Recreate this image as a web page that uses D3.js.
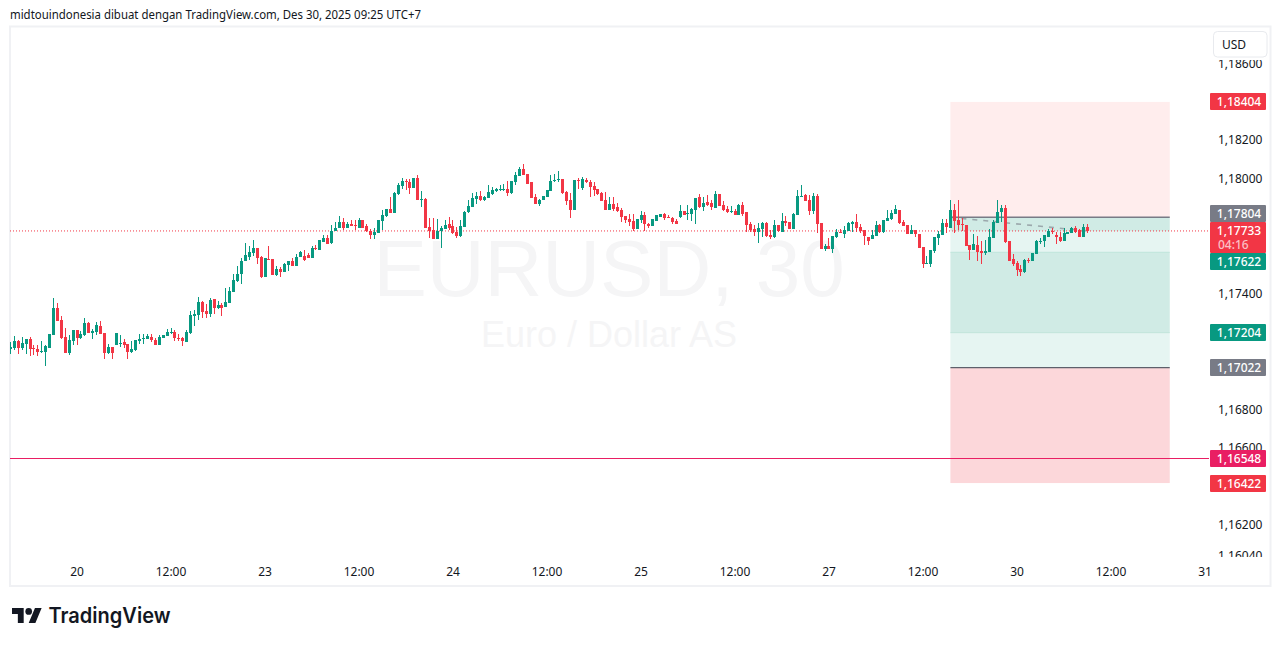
<!DOCTYPE html>
<html>
<head>
<meta charset="utf-8">
<script src="https://cdn.jsdelivr.net/npm/d3@7/dist/d3.min.js"></script>
<style>
html,body{margin:0;padding:0;background:#fff;overflow:hidden}
svg{display:block}
text{font-family:"Noto Sans",sans-serif}
</style>
</head>
<body>
<svg id="c" width="1281" height="646"></svg>
<script>
// Candle values, in points above 1.17000 (1 point = 0.00001). First bar index = firstBar.
const firstBar = -17;
const pointBase = 1.17;
const opens = [119,123,159,125,144,170,123,118,102,104,125,190,331,269,180,97,159,217,175,190,253,201,206,237,201,97,128,138,144,154,144,102,112,159,170,170,180,164,138,175,185,201,206,175,175,154,201,289,295,362,315,300,378,331,347,336,357,414,472,508,576,597,617,643,597,492,586,586,503,534,518,555,576,550,597,602,607,591,
644,634,675,696,670,732,748,779,748,769,764,748,790,758,732,712,722,784,810,847,826,925,967,993,987,956,1008,894,899,753,738,691,732,743,769,758,727,706,753,831,857,899,915,894,904,925,941,946,946,951,930,987,1019,1055,1029,987,909,873,894,909,941,993,998,1003,935,894,842,998,956,998,987,967,951,930,894,842,873,857,842,810,795,
784,742,789,815,768,758,784,804,820,804,799,784,804,836,820,820,841,908,856,882,877,851,924,867,846,830,836,815,867,830,768,742,726,742,773,711,700,763,726,784,778,742,815,908,919,893,836,914,773,638,653,638,700,726,716,731,768,778,752,737,700,690,705,763,726,784,794,820,841,778,763,716,737,716,648,560,560,627,695,
711,773,747,841,789,768,763,659,633,659,627,617,622,695,773,830,851,680,586,565,534,518,581,575,612,674,680,700,732,711,700,680,716,721,747,737,700,752];
const highs = [154,185,168,180,170,180,140,138,159,138,196,383,357,289,227,190,217,217,211,279,258,222,258,263,201,144,128,201,190,170,144,159,164,196,196,196,196,175,190,190,222,227,217,196,180,217,315,321,388,367,352,383,378,367,357,435,440,508,550,591,669,654,685,643,602,591,654,586,550,544,565,576,591,612,628,633,617,654,
659,686,712,712,764,779,810,800,779,790,790,800,790,769,743,748,790,842,847,909,935,982,1008,1003,1003,1008,1024,941,904,800,800,795,758,790,805,790,753,790,836,894,930,935,941,915,972,961,956,972,977,993,993,1039,1066,1081,1029,987,925,899,915,946,1024,1029,1045,1003,941,930,998,1008,1013,1008,998,987,951,935,935,909,909,878,852,810,821,
820,794,836,830,773,794,815,820,825,815,804,794,867,836,867,851,903,924,908,919,893,940,924,888,862,862,846,872,882,830,778,763,773,778,778,737,789,763,825,810,778,825,945,971,924,919,929,924,773,664,695,705,742,742,758,778,784,820,768,737,700,737,784,768,789,841,841,867,841,789,763,763,737,716,648,601,633,700,731,
794,794,893,872,893,799,763,659,716,706,680,685,742,789,893,867,867,680,612,575,555,586,591,617,685,695,711,742,747,726,726,747,726,752,758,742,768,768];
const lows = [92,116,92,114,92,81,86,81,97,29,125,190,263,170,97,86,138,138,171,185,201,170,190,196,66,92,66,138,128,123,66,97,107,144,144,170,154,138,138,175,185,196,159,159,133,154,196,237,269,279,279,284,300,326,289,336,357,414,466,456,576,581,602,560,487,492,581,503,498,492,518,524,550,550,597,576,591,591,
634,634,675,665,665,732,748,738,748,758,738,748,748,727,691,691,722,738,805,826,826,920,951,946,925,956,894,857,748,696,691,691,644,743,738,717,696,701,753,826,857,873,889,889,904,920,935,941,941,915,925,972,1019,1024,977,904,873,863,894,909,941,987,987,925,868,800,842,951,946,982,909,915,920,889,842,842,836,831,779,774,758,
731,742,773,731,747,758,784,804,789,799,768,768,799,815,789,784,768,851,836,862,841,851,862,836,825,825,815,815,810,726,726,705,669,700,700,690,695,726,726,758,742,742,815,908,888,815,820,721,638,627,638,617,695,721,695,731,726,726,721,659,659,690,705,721,721,784,789,820,768,758,716,716,700,643,539,560,544,617,659,
711,721,747,721,737,732,654,581,633,575,560,607,622,695,773,778,669,575,549,497,497,513,565,575,612,664,648,700,716,664,674,680,716,721,721,700,700,721];
const closes = [128,159,123,149,170,119,119,104,107,133,196,331,263,175,97,164,217,175,196,253,201,211,243,196,97,128,97,201,149,138,102,118,164,170,175,185,164,138,180,190,206,206,175,170,159,206,295,300,362,310,300,373,331,347,331,362,420,477,508,576,607,623,643,591,492,591,581,503,534,518,560,576,550,597,623,581,591,643,
639,686,696,665,732,748,779,748,769,758,758,790,748,732,712,727,790,816,847,826,930,972,993,987,956,1008,894,899,748,732,691,732,748,764,748,722,706,758,831,863,904,915,894,909,935,946,951,951,951,930,993,1024,1055,1024,977,904,873,894,915,946,993,998,1003,930,889,842,998,993,1003,987,961,946,925,889,842,873,847,836,805,790,779,
742,794,815,768,758,794,815,820,799,799,778,768,836,815,825,846,903,856,877,867,856,924,862,841,830,836,815,867,820,763,737,726,747,773,705,700,763,731,784,773,742,820,914,914,888,836,914,768,638,653,638,705,726,721,737,773,778,747,731,705,679,711,763,726,789,799,825,846,773,758,716,737,716,643,560,565,633,700,716,
773,752,841,784,763,763,654,633,664,622,617,627,700,778,830,851,674,575,560,529,518,581,575,617,680,680,711,732,726,700,680,721,726,747,726,700,752,733];

// Price axis and labels (ticks fully hidden behind the coloured boxes are not listed)
const priceTicks = [1.186,1.182,1.18,1.174,1.168,1.166,1.162,1.1604];
const labelPrices = [1.18404,1.17804,1.17733,1.17622,1.17204,1.17022,1.16548,1.16422];
const labelColors = ["#f23645","#787b86","#f23645","#089981","#089981","#787b86","#e91e63","#f23645"];
const currentPrice = 1.17733, countdown = "04:16";

// Time axis: bar index of each label
const timeBars = [0,24,48,72,96,120,144,168,192,216,240,264,288];
const timeLabels = ["20","12:00","23","12:00","24","12:00","25","12:00","27","12:00","30","12:00","31"];

// Long/short position tool
const posStartBar = 223, posEndBar = 279, posLastBar = 258;
const posStopTop = 1.18404, posEntry = 1.17804, posInner1 = 1.17622, posInner2 = 1.17204, posTarget = 1.17022, posStopBottom = 1.16422;
const hLinePrice = 1.16548;

const headerText = "midtouindonesia dibuat dengan TradingView.com, Des 30, 2025 09:25 UTC+7";
const wmTitle = "EURUSD, 30", wmSub = "Euro / Dollar AS", brand = "TradingView", currency = "USD";

const UP = "#089981", DOWN = "#f23645";
const svg = d3.select("#c");
const x = d3.scaleLinear().domain([0,288]).range([77,1205]);
const y = d3.scaleLinear().domain([1.18,1.16]).range([179.6,564.2]);
const yLabel = p => Math.round(y(p));
const toPrice = v => pointBase + v/1e5;
const candles = opens.map((o,k)=>({i:firstBar+k,o:toPrice(o),h:toPrice(highs[k]),l:toPrice(lows[k]),c:toPrice(closes[k])}));

const defs = svg.append("defs");
defs.append("clipPath").attr("id","pane").append("rect").attr("x",10).attr("y",27).attr("width",1199).attr("height",532);
defs.append("clipPath").attr("id","axisclip").append("rect").attr("x",1210).attr("y",60).attr("width",60).attr("height",497);

// header
svg.append("text").attr("x",10).attr("y",19).attr("font-size",12).attr("fill","#131722")
  .attr("textLength",411).attr("lengthAdjust","spacingAndGlyphs").text(headerText);

// frame
svg.append("rect").attr("x",10).attr("y",26.5).attr("width",1260.5).attr("height",559.5)
  .attr("fill","#fff").attr("stroke","#f0f1f4").attr("stroke-width",2);

const pane = svg.append("g").attr("clip-path","url(#pane)");

// watermark
pane.append("text").attr("x",609).attr("y",296).attr("text-anchor","middle").attr("font-size",80)
  .attr("fill","#f5f5f6").style("font-family","'Liberation Sans',sans-serif").text(wmTitle);
pane.append("text").attr("x",609).attr("y",346.5).attr("text-anchor","middle").attr("font-size",36)
  .attr("fill","#f5f5f6").style("font-family","'Liberation Sans',sans-serif").text(wmSub);

// position tool
const px0 = x(posStartBar), px1 = x(posEndBar);
const zone = (a,b,fill)=>pane.append("rect").attr("x",px0).attr("width",px1-px0).attr("y",y(a)).attr("height",y(b)-y(a)).attr("fill",fill);
zone(posStopTop,posEntry,"#ffeded");
zone(posEntry,currentPrice,"#d0ebe5");
zone(currentPrice,posInner1,"#e6f5f2");
zone(posInner1,posInner2,"#d0ebe5");
zone(posInner2,posTarget,"#e6f5f2");
zone(posTarget,posStopBottom,"#fcd7da");
const hl = (p,col,w)=>pane.append("line").attr("x1",px0).attr("x2",px1).attr("y1",y(p)).attr("y2",y(p)).attr("stroke",col).attr("stroke-width",w);
hl(posInner1,"#bfe4da",1); hl(posInner2,"#bfe4da",1);
hl(posEntry,"#787b86",1.6); hl(posTarget,"#5d606b",1.4);

// dashed position path
pane.append("line").attr("x1",x(posStartBar)).attr("y1",y(posEntry)).attr("x2",x(posLastBar)).attr("y2",y(currentPrice))
  .attr("stroke","#787b86").attr("stroke-opacity",.6).attr("stroke-width",1.6).attr("stroke-dasharray","5 6");

// price lines
pane.append("line").attr("x1",10).attr("x2",1209).attr("y1",y(currentPrice)).attr("y2",y(currentPrice))
  .attr("stroke",DOWN).attr("stroke-width",1).attr("stroke-dasharray","1 2");
pane.append("line").attr("x1",10).attr("x2",1209).attr("y1",Math.floor(y(hLinePrice))+.5).attr("y2",Math.floor(y(hLinePrice))+.5)
  .attr("stroke","#e91e63").attr("stroke-width",1);

// candles
const cg = pane.append("g").attr("shape-rendering","crispEdges");
const bar = cg.selectAll("g").data(candles).join("g").attr("fill",d=>d.c>d.o?UP:DOWN);
bar.append("rect").attr("x",d=>Math.floor(x(d.i))).attr("width",1)
  .attr("y",d=>yLabel(d.h)).attr("height",d=>Math.max(1,yLabel(d.l)-yLabel(d.h)));
bar.append("rect").attr("x",d=>Math.floor(x(d.i))-1).attr("width",3)
  .attr("y",d=>yLabel(Math.max(d.o,d.c))).attr("height",d=>Math.max(1,yLabel(Math.min(d.o,d.c))-yLabel(Math.max(d.o,d.c))));

// price axis
const ya = svg.append("g").attr("clip-path","url(#axisclip)").append("g").attr("transform","translate(1212,-1)")
  .call(d3.axisRight(y).tickValues(priceTicks).tickSize(0).tickPadding(6).tickFormat(p=>d3.format(".5f")(p).replace(".",",")));
ya.select(".domain").remove();
ya.selectAll("text").attr("font-size",12).attr("fill","#131722").style("font-family","'Noto Sans',sans-serif");

// time axis
const xa = svg.append("g").attr("transform","translate(0,567)")
  .call(d3.axisBottom(x).tickValues(timeBars).tickSize(0).tickPadding(0).tickFormat((d,k)=>timeLabels[k]));
xa.select(".domain").remove();
xa.selectAll("text").attr("font-size",12).attr("fill","#131722").attr("dy","0.71em").attr("y",0)
  .attr("dx",-.5).style("font-family","'Noto Sans',sans-serif");

// USD button
svg.append("rect").attr("x",1213.5).attr("y",31.5).attr("width",53.5).attr("height",25.5).attr("rx",4)
  .attr("fill","#fff").attr("stroke","#e8eaee");
svg.append("text").attr("x",1222).attr("y",48.5).attr("font-size",12).attr("fill","#131722").text(currency);

// price labels, pushed clear of the taller current-price box
const H = 17, curH = 31;
const curTop = Math.round(y(currentPrice)-9);
const labels = labelPrices.map((p,k)=>{
  let top = Math.round(y(p)-8.5), h = H;
  if (p===currentPrice){top=curTop;h=curH;}
  else if (top<curTop+curH && top+H>curTop){ top = p>currentPrice ? curTop-H : curTop+curH; }
  return {p,top,h,col:labelColors[k]};
});
const lg = svg.append("g");
lg.selectAll("rect").data(labels).join("rect").attr("x",1210).attr("width",56).attr("y",d=>d.top).attr("height",d=>d.h).attr("rx",1).attr("fill",d=>d.col);
lg.selectAll("text.p").data(labels).join("text").attr("class","p").attr("x",1239).attr("text-anchor","middle")
  .attr("y",d=>d.top+13).attr("font-size",12).attr("font-weight",500).attr("fill","#fff").text(d=>d3.format(".5f")(d.p).replace(".",","));
lg.append("text").attr("x",1218).attr("y",curTop+26.5).attr("font-size",12).attr("font-weight",500).attr("fill","#fff").attr("fill-opacity",.7).text(countdown);

// logo
const logo = svg.append("g").attr("transform","translate(12,604.7) scale(0.835)").attr("fill","#131722");
logo.append("path").attr("d","M14 22H7V11H0V4h14v18zM28 22h-8l7.5-18h8L28 22z");
logo.append("circle").attr("cx",20).attr("cy",8).attr("r",4);
svg.append("text").attr("x",48.5).attr("y",623).attr("font-size",21).attr("font-weight",600).attr("fill","#131722")
  .attr("textLength",122).attr("lengthAdjust","spacingAndGlyphs").style("font-family","Inter,sans-serif").text(brand);
</script>
</body>
</html>
